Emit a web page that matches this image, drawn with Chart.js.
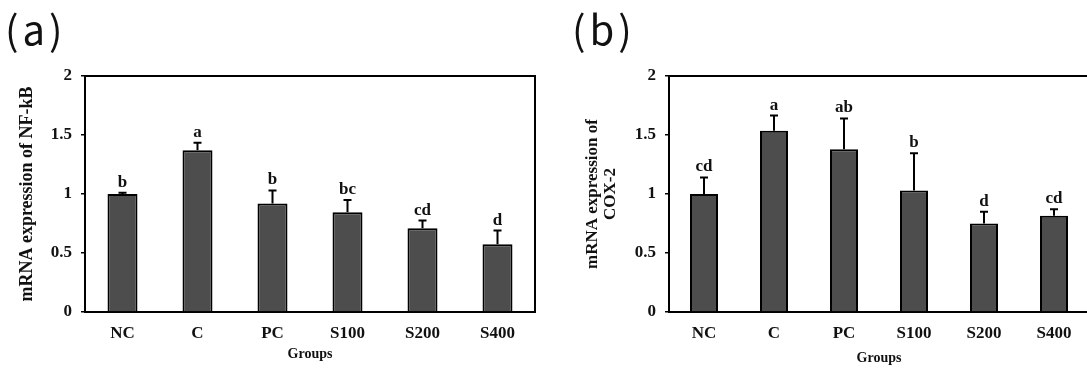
<!DOCTYPE html>
<html>
<head>
<meta charset="utf-8">
<script src="https://cdn.jsdelivr.net/npm/chart.js@4/dist/chart.umd.min.js"></script>
<style>
  html, body { margin: 0; padding: 0; background: #fff; }
  body { width: 1087px; height: 368px; overflow: hidden; position: relative; }
  .panel { position: absolute; top: 0; height: 368px; }
  #pa { left: 0; width: 545px; }
  #pb { left: 540px; width: 560px; }
  .tag { position: absolute; top: -1px; font-family: "Noto Sans CJK KR", sans-serif; font-size: 40px; letter-spacing: 4px; color: #111; }
  #ta { left: 5px; }
  #tb { left: 572px; }
</style>
</head>
<body>
<div class="panel" id="pa"><canvas id="chartA"></canvas></div>
<div class="panel" id="pb"><canvas id="chartB"></canvas></div>
<div class="tag" id="ta">(a)</div>
<div class="tag" id="tb">(b)</div>
<script>
const groups = ['NC', 'C', 'PC', 'S100', 'S200', 'S400'];

// (a) NF-kB
const nfkbMean = [1.00, 1.37, 0.92, 0.845, 0.71, 0.575];
const nfkbSd = [0.01, 0.065, 0.11, 0.105, 0.065, 0.115];
const nfkbLetters = ['b', 'a', 'b', 'bc', 'cd', 'd'];

// (b) COX-2
const cox2Mean = [1.00, 1.535, 1.38, 1.03, 0.75, 0.815];
const cox2Sd = [0.14, 0.13, 0.26, 0.315, 0.10, 0.055];
const cox2Letters = ['cd', 'a', 'ab', 'b', 'd', 'cd'];

const yMin = 0, yMax = 2, yStep = 0.5;

const serif = '"Liberation Serif", "Times New Roman", serif';

// error bars, letters and the top/right frame
const extras = {
  id: 'extras',
  afterDatasetsDraw(chart, args, opts) {
    const { ctx, chartArea, scales: { x, y } } = chart;
    const means = chart.data.datasets[0].data;
    ctx.save();
    ctx.strokeStyle = '#000';
    ctx.lineWidth = 2;
    ctx.beginPath();
    ctx.moveTo(chartArea.left, chartArea.top);
    ctx.lineTo(chartArea.right, chartArea.top);
    ctx.lineTo(chartArea.right, chartArea.bottom);
    ctx.stroke();

    ctx.fillStyle = '#111';
    ctx.font = 'bold 17px ' + serif;
    ctx.textAlign = 'center';
    ctx.textBaseline = 'alphabetic';
    means.forEach((m, i) => {
      const cx = x.getPixelForValue(i);
      const y0 = y.getPixelForValue(m);
      const y1 = y.getPixelForValue(m + opts.sd[i]);
      ctx.beginPath();
      ctx.moveTo(cx, y0);
      ctx.lineTo(cx, y1);
      ctx.moveTo(cx - 4, y1);
      ctx.lineTo(cx + 4, y1);
      ctx.stroke();
      ctx.fillText(opts.letters[i], cx, y1 - 6);
    });
    ctx.restore();
  }
};

function makeChart(id, means, sd, letters, yTitle, titleSize, yWidth, rightPad, titlePad, groupsPad) {
  return new Chart(document.getElementById(id), {
    type: 'bar',
    data: {
      labels: groups,
      datasets: [{
        data: means,
        backgroundColor: '#4d4d4d',
        borderColor: '#000',
        borderWidth: 2,
        borderSkipped: 'bottom',
        categoryPercentage: 1,
        barPercentage: 0.4
      }]
    },
    options: {
      responsive: true,
      maintainAspectRatio: false,
      animation: false,
      layout: { padding: { top: 76, right: rightPad, left: 0, bottom: 0 } },
      plugins: {
        legend: { display: false },
        tooltip: { enabled: false },
        extras: { sd: sd, letters: letters }
      },
      scales: {
        x: {
          grid: { display: false, drawTicks: false },
          border: { display: true, color: '#000', width: 2 },
          ticks: { color: '#111', font: { family: serif, size: 17, weight: 'bold' }, padding: 11, maxRotation: 0 },
          title: { display: true, text: 'Groups', color: '#111', font: { family: serif, size: 14, weight: 'bold' }, padding: { top: 0, bottom: groupsPad } },
          afterFit: s => { s.height = 56; }
        },
        y: {
          min: yMin,
          max: yMax,
          grid: { drawOnChartArea: false, tickLength: 4, color: '#000', lineWidth: 1.5 },
          border: { display: true, color: '#000', width: 2 },
          ticks: {
            stepSize: yStep,
            color: '#111',
            font: { family: serif, size: 17, weight: 'bold' },
            padding: 9,
            callback: v => String(+v)
          },
          title: { display: true, text: yTitle, color: '#111', font: { family: serif, size: titleSize, weight: 'bold', lineHeight: 1.05 }, padding: { top: titlePad, bottom: 0 } },
          afterFit: s => { s.width = yWidth; }
        }
      }
    },
    plugins: [extras]
  });
}

makeChart('chartA', nfkbMean, nfkbSd, nfkbLetters, 'mRNA expression of NF-kB', 18, 85, 10, 18, 5);
makeChart('chartB', cox2Mean, cox2Sd, cox2Letters, ['mRNA expression of', 'COX-2'], 17, 129, 11, 44, 1);
</script>
</body>
</html>
